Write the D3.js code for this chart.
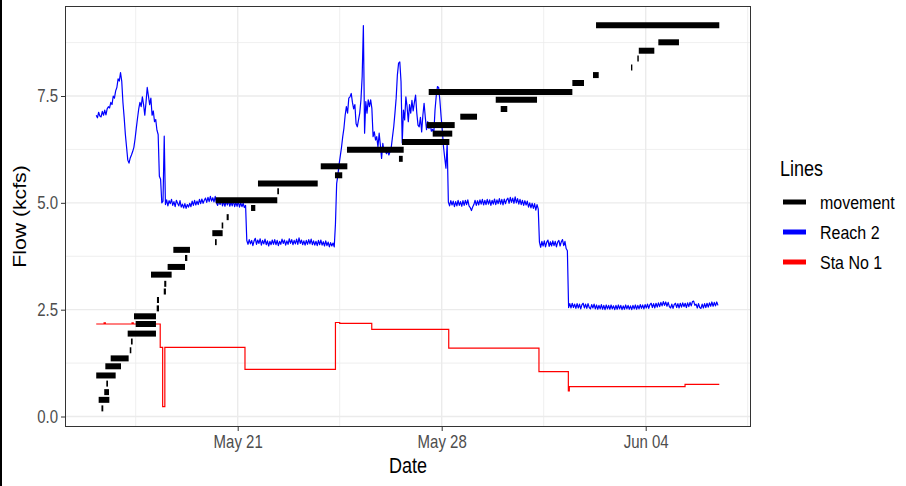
<!DOCTYPE html>
<html>
<head>
<meta charset="utf-8">
<script src="https://cdn.jsdelivr.net/npm/d3@7"></script>
<style>
  body { margin: 0; background: #ffffff; }
  svg { display: block; font-family: "Liberation Sans", Arial, sans-serif; }
</style>
</head>
<body>
<svg id="chart" width="906" height="486"></svg>
<script>
// ---- data ----
const xTickDates = ["2021-05-21 00:00", "2021-05-28 00:00", "2021-06-04 00:00"];
const xMinorDates = ["2021-05-17 12:00", "2021-05-24 12:00", "2021-05-31 12:00", "2021-06-07 12:00"];
const yTicks = [0, 2.5, 5, 7.5];
const yMinor = [1.25, 3.75, 6.25, 8.75];
const xDomain = ["2021-05-15 01:47", "2021-06-07 14:43"];
const yDomain = [-0.2457, 9.6065];

const seriesNames = ["movement", "Reach 2", "Sta No 1"];
const seriesColors = ["#000000", "#0000FF", "#FF0000"];

// Reach 2 flow, hourly readings
const reachStart = "2021-05-16 03:30";
const reachStepHours = 1;
const reachFlow = [
  7.05, 6.99, 7.12, 7.03, 7.01, 7.14, 7.05, 7.17, 7.06, 7.20,
  7.25, 7.22, 7.35, 7.30, 7.50, 7.45, 7.62, 7.70, 7.90, 7.85,
  8.05, 7.85, 7.35, 7.00, 6.60, 6.30, 6.00, 5.93, 6.05, 6.12,
  6.20, 6.30, 6.50, 6.75, 6.98, 7.20, 7.35, 7.25, 7.48, 7.30,
  7.05, 7.35, 7.70, 7.50, 7.30, 7.45, 7.05, 7.15, 6.90, 6.95,
  6.70, 6.60, 5.62, 5.55, 5.00, 5.04, 6.56,
  4.96, 5.07, 4.93, 5.05, 4.98, 5.08, 4.94, 5.03, 4.91, 5.06,
  4.99, 4.93, 5.05, 4.90, 4.97, 4.88, 4.98, 4.87, 4.96, 4.90,
  4.99, 4.91, 5.04, 4.94, 5.06, 4.95, 5.04, 4.96, 5.08, 4.98,
  5.09, 4.99, 5.06, 5.11, 5.01, 5.13, 5.03, 5.15, 5.04, 5.12,
  5.02, 5.15, 5.00, 4.94, 5.05, 4.96, 5.07, 4.93, 5.03, 4.92,
  5.05, 4.95, 5.06, 4.92, 5.02, 4.93, 5.05, 4.91, 5.01, 4.92,
  5.04, 4.90, 5.00, 4.91, 4.99, 4.89, 4.94,
  4.12, 4.03, 4.14, 4.04, 4.12, 4.00, 4.11, 4.17, 4.03, 4.13,
  4.05, 4.16, 4.01, 4.12, 4.04, 4.15, 4.02, 4.11, 3.99, 4.10,
  4.02, 4.13, 4.03, 4.14, 4.02, 4.12, 4.00, 4.10, 4.03, 4.15,
  4.05, 4.13, 4.01, 4.11, 4.03, 4.16, 4.05, 4.14, 4.02, 4.12,
  4.04, 4.15, 4.03, 4.18, 4.05, 4.13, 4.02, 4.11, 4.01, 4.12,
  4.03, 4.14, 4.04, 4.15, 4.02, 4.11, 4.01, 4.10, 4.00, 4.12,
  4.02, 4.13, 4.01, 4.09, 3.99, 4.11, 4.00, 4.08, 3.97, 4.07,
  3.99, 4.06, 3.97,
  4.50, 5.45, 5.65, 5.90, 6.10, 6.30, 6.55, 6.75, 7.05, 7.25,
  7.10, 7.45, 7.48, 7.56, 7.35, 7.20, 7.30, 6.85, 6.78, 6.94,
  7.10, 7.41, 7.95, 9.15, 6.63, 7.37, 7.10, 7.41, 7.25, 7.41,
  7.21, 6.55, 6.66, 6.47, 6.55, 6.31, 6.63, 6.35, 6.04, 6.39,
  6.20, 6.24, 6.15, 6.22, 6.12, 6.20, 6.31, 6.55, 6.78, 7.10,
  7.45, 7.99, 8.27, 8.30, 7.84, 6.40, 7.17, 6.94, 7.48, 7.25,
  6.90, 7.30, 7.10, 7.40, 7.15, 7.35, 7.52, 7.10, 6.82, 6.78,
  7.00, 6.66, 7.05, 7.33, 7.00, 6.71, 6.90, 6.74, 6.85, 6.68,
  6.72, 6.63, 7.17, 7.50, 7.72, 7.70, 7.40, 7.02, 6.70, 6.31,
  6.05, 5.81, 6.39,
  5.02, 4.93, 5.05, 4.95, 5.04, 4.91, 5.03, 4.93, 5.06, 4.94,
  5.03, 4.92, 5.05, 4.94, 5.06, 4.96, 5.07, 4.93, 4.89, 4.82,
  4.90, 4.96, 5.06, 4.94, 5.05, 4.95, 5.07, 4.97, 5.08, 4.95,
  5.06, 4.96, 5.08, 4.97, 5.07, 4.94, 5.06, 4.97, 5.09, 4.96,
  5.07, 4.98, 5.10, 4.97, 5.08, 4.95, 5.09, 4.98, 5.07, 5.11,
  4.99, 5.13, 5.01, 5.11, 4.99, 5.14, 5.00, 5.10, 4.97, 5.08,
  4.96, 5.06, 4.94, 5.05, 4.95, 5.04, 4.90, 5.00, 4.88, 4.99,
  4.87, 4.98, 4.83, 4.96, 4.86,
  4.08, 3.96, 4.10, 3.99, 4.11, 3.97, 4.08, 4.13, 3.98, 4.09,
  3.99, 4.11, 4.00, 4.10, 3.97, 4.08, 4.12, 3.99, 4.09, 4.14,
  4.00, 4.10, 3.93, 3.88,
  2.55, 2.64, 2.54, 2.65, 2.55, 2.63, 2.53, 2.64, 2.54, 2.63,
  2.52, 2.62, 2.65, 2.54, 2.63, 2.53, 2.64, 2.55, 2.52, 2.62,
  2.54, 2.63, 2.52, 2.61, 2.51, 2.60, 2.52, 2.62, 2.51, 2.60,
  2.50, 2.61, 2.52, 2.60, 2.51, 2.61, 2.52, 2.59, 2.50, 2.60,
  2.51, 2.61, 2.52, 2.60, 2.50, 2.59, 2.51, 2.61, 2.52, 2.60,
  2.51, 2.59, 2.50, 2.60, 2.52, 2.61, 2.51, 2.60, 2.52, 2.62,
  2.53, 2.61, 2.52, 2.62, 2.54, 2.63, 2.53, 2.62, 2.65, 2.55,
  2.64, 2.54, 2.65, 2.56, 2.66, 2.57, 2.67, 2.59, 2.69, 2.60,
  2.68, 2.58, 2.67, 2.57, 2.54, 2.63, 2.53, 2.62, 2.65, 2.55,
  2.64, 2.54, 2.65, 2.56, 2.66, 2.57, 2.65, 2.55, 2.66, 2.57,
  2.67, 2.59, 2.69, 2.70, 2.60, 2.63, 2.54, 2.64, 2.55, 2.53,
  2.63, 2.54, 2.64, 2.55, 2.65, 2.56, 2.66, 2.58, 2.68, 2.58,
  2.67, 2.59, 2.68, 2.60
];

// Sta No 1 flow, value holds until the next change
const staTimes = [
  "2021-05-16 03:30", "2021-05-16 10:00", "2021-05-16 11:00", "2021-05-17 09:00",
  "2021-05-17 10:00", "2021-05-18 08:12", "2021-05-18 10:12", "2021-05-18 12:00",
  "2021-05-21 06:00", "2021-05-24 08:30", "2021-05-24 12:00", "2021-05-25 14:24",
  "2021-05-28 05:48", "2021-05-31 08:06", "2021-06-01 08:18", "2021-06-01 09:06",
  "2021-06-05 08:24", "2021-06-06 12:36"
];
const staFlow = [
  2.165, 2.19, 2.165, 2.19,
  2.165, 1.62, 0.23, 1.62,
  1.105, 2.20, 2.18, 2.04,
  1.60, 1.05, 0.60, 0.70,
  0.753, 0.753
];

// movement: flow held between start and end
const moveStart = [
  "2021-05-16 07:48", "2021-05-16 05:30", "2021-05-16 10:06", "2021-05-16 11:48",
  "2021-05-16 03:30", "2021-05-16 11:00", "2021-05-16 15:24", "2021-05-17 07:06",
  "2021-05-17 08:06", "2021-05-17 05:24", "2021-05-17 12:00", "2021-05-17 10:36",
  "2021-05-18 05:18", "2021-05-18 05:30", "2021-05-18 11:06", "2021-05-18 11:30",
  "2021-05-18 00:36", "2021-05-18 14:18", "2021-05-19 04:36", "2021-05-18 19:00",
  "2021-05-20 03:06", "2021-05-20 05:18", "2021-05-20 10:48", "2021-05-20 14:54",
  "2021-05-20 05:54", "2021-05-21 11:00", "2021-05-22 08:36", "2021-05-21 16:42",
  "2021-05-23 20:24", "2021-05-24 08:06", "2021-05-24 18:00", "2021-05-26 12:48",
  "2021-05-26 15:18", "2021-05-27 16:36", "2021-05-27 11:42", "2021-05-27 13:18",
  "2021-05-28 15:18", "2021-05-29 20:30", "2021-05-30 00:36", "2021-06-01 11:36",
  "2021-06-02 04:36", "2021-06-03 11:54", "2021-06-03 17:06", "2021-06-03 18:18",
  "2021-06-04 10:24", "2021-06-02 07:06"
];
const moveEnd = [
  "2021-05-16 09:18", "2021-05-16 14:18", "2021-05-16 14:00", "2021-05-16 13:12",
  "2021-05-16 19:30", "2021-05-16 23:54", "2021-05-17 06:12", "2021-05-17 08:24",
  "2021-05-17 09:30", "2021-05-18 04:42", "2021-05-18 04:42", "2021-05-18 04:42",
  "2021-05-18 07:12", "2021-05-18 07:12", "2021-05-18 12:54", "2021-05-18 13:12",
  "2021-05-18 17:36", "2021-05-19 04:36", "2021-05-19 06:30", "2021-05-19 08:42",
  "2021-05-20 11:36", "2021-05-20 06:42", "2021-05-20 12:06", "2021-05-20 16:36",
  "2021-05-22 08:36", "2021-05-21 14:30", "2021-05-22 10:00", "2021-05-23 17:54",
  "2021-05-24 18:18", "2021-05-24 14:06", "2021-05-26 16:42", "2021-05-26 15:54",
  "2021-05-28 06:18", "2021-05-28 08:42", "2021-05-28 10:42", "2021-06-01 11:36",
  "2021-05-29 05:06", "2021-05-31 06:30", "2021-05-30 06:00", "2021-06-01 21:12",
  "2021-06-02 09:18", "2021-06-03 13:00", "2021-06-03 18:18", "2021-06-04 07:06",
  "2021-06-05 03:24", "2021-06-06 12:36"
];
const moveFlow = [
  0.19, 0.39, 0.57, 0.77,
  0.96, 1.175, 1.36, 1.55,
  1.755, 1.94, 2.165, 2.345,
  2.53, 2.726, 2.925, 3.105,
  3.32, 3.50, 3.71, 3.90,
  4.29, 4.08, 4.47, 4.665,
  5.06, 4.88, 5.27, 5.455,
  5.855, 5.645, 6.245, 6.03,
  6.425, 6.62, 6.82, 7.594,
  7.016, 7.41, 7.196, 7.805,
  7.99, 8.17, 8.38, 8.56,
  8.757, 9.155
];

// ---- layout ----
const parse = d3.utcParse("%Y-%m-%d %H:%M");
const panel = { left: 65, right: 751, top: 6, bottom: 427 };
const textStretch = 1.18; // glyphs are drawn slightly taller than wide
const svg = d3.select("#chart");

const x = d3.scaleUtc().domain(xDomain.map(parse)).range([panel.left, panel.right]);
const y = d3.scaleLinear().domain(yDomain).range([panel.bottom, panel.top]);

// stretch a text element vertically about its own middle
function stretchText(sel) {
  sel.each(function () {
    const bb = this.getBBox();
    const cy = bb.y + bb.height / 2;
    d3.select(this).attr("transform",
      `translate(0,${cy}) scale(1,${textStretch}) translate(0,${-cy})`);
  });
}

svg.append("rect").attr("width", 906).attr("height", 486).attr("fill", "#ffffff");
svg.append("rect").attr("x", 0).attr("y", 0).attr("width", 2).attr("height", 486).attr("fill", "#000000");

svg.append("defs").append("clipPath").attr("id", "panel-clip")
  .append("rect")
  .attr("x", panel.left).attr("y", panel.top)
  .attr("width", panel.right - panel.left).attr("height", panel.bottom - panel.top);

// grid
const grid = svg.append("g");
grid.selectAll(".ymin").data(yMinor).join("line")
  .attr("x1", panel.left).attr("x2", panel.right)
  .attr("y1", d => y(d)).attr("y2", d => y(d))
  .attr("stroke", "#EBEBEB").attr("stroke-width", 0.8);
grid.selectAll(".xmin").data(xMinorDates.map(parse)).join("line")
  .attr("y1", panel.top).attr("y2", panel.bottom)
  .attr("x1", d => x(d)).attr("x2", d => x(d))
  .attr("stroke", "#EBEBEB").attr("stroke-width", 0.8);
grid.selectAll(".ymaj").data(yTicks).join("line")
  .attr("x1", panel.left).attr("x2", panel.right)
  .attr("y1", d => y(d)).attr("y2", d => y(d))
  .attr("stroke", "#EBEBEB").attr("stroke-width", 1.4);
grid.selectAll(".xmaj").data(xTickDates.map(parse)).join("line")
  .attr("y1", panel.top).attr("y2", panel.bottom)
  .attr("x1", d => x(d)).attr("x2", d => x(d))
  .attr("stroke", "#EBEBEB").attr("stroke-width", 1.4);

// series
const plot = svg.append("g").attr("clip-path", "url(#panel-clip)");

const t0 = parse(reachStart);
const reachData = reachFlow.map((v, i) => ({ t: d3.utcHour.offset(t0, i * reachStepHours), v }));
const staData = staTimes.map((s, i) => ({ t: parse(s), v: staFlow[i] }));

plot.append("path")
  .datum(reachData)
  .attr("fill", "none")
  .attr("stroke", seriesColors[1])
  .attr("stroke-width", 1.2)
  .attr("stroke-linejoin", "round")
  .attr("d", d3.line().x(d => x(d.t)).y(d => y(d.v)));

plot.append("path")
  .datum(staData)
  .attr("fill", "none")
  .attr("stroke", seriesColors[2])
  .attr("stroke-width", 1.2)
  .attr("d", d3.line().curve(d3.curveStepAfter).x(d => x(d.t)).y(d => y(d.v)));

const moveData = moveFlow.map((v, i) => ({ a: parse(moveStart[i]), b: parse(moveEnd[i]), v }));
plot.selectAll(".move").data(moveData).join("line")
  .attr("x1", d => x(d.a)).attr("x2", d => x(d.b))
  .attr("y1", d => y(d.v)).attr("y2", d => y(d.v))
  .attr("stroke", seriesColors[0])
  .attr("stroke-width", 6)
  .attr("stroke-linecap", "butt");

// panel border
svg.append("rect")
  .attr("x", panel.left + 0.5).attr("y", panel.top + 0.5)
  .attr("width", panel.right - panel.left - 1).attr("height", panel.bottom - panel.top - 1)
  .attr("fill", "none").attr("stroke", "#333333").attr("stroke-width", 1);

// axes
const fmt = d3.utcFormat("%b %d");
const xAxis = d3.axisBottom(x).tickValues(xTickDates.map(parse)).tickFormat(fmt).tickSize(4).tickPadding(5);
const yAxis = d3.axisLeft(y).tickValues(yTicks).tickFormat(d3.format(".1f")).tickSize(4).tickPadding(3);

const gx = svg.append("g").attr("transform", `translate(0,${panel.bottom})`).call(xAxis);
const gy = svg.append("g").attr("transform", `translate(${panel.left},0)`).call(yAxis);
[gx, gy].forEach(g => {
  g.select(".domain").remove();
  g.selectAll(".tick line").attr("stroke", "#333333");
  g.selectAll(".tick text")
    .attr("fill", "#4D4D4D")
    .style("font-family", '"Liberation Sans", Arial, sans-serif')
    .style("font-size", "15px")
    .call(stretchText);
});

svg.append("text")
  .attr("x", (panel.left + panel.right) / 2).attr("y", 472)
  .attr("text-anchor", "middle")
  .style("font-size", "18px").attr("fill", "#000000")
  .text("Date")
  .call(stretchText);

svg.append("text")
  .attr("transform", `translate(26,${(panel.top + panel.bottom) / 2}) scale(1,${textStretch}) rotate(-90)`)
  .attr("text-anchor", "middle")
  .style("font-size", "18px").attr("fill", "#000000")
  .text("Flow (kcfs)");

// legend
const legend = svg.append("g").attr("transform", "translate(780,0)");
legend.append("text")
  .attr("x", 0).attr("y", 175)
  .style("font-size", "18px").attr("fill", "#000000")
  .text("Lines")
  .call(stretchText);
const rows = legend.selectAll(".row").data(seriesNames).join("g")
  .attr("transform", (d, i) => `translate(0,${202 + i * 30})`);
rows.append("line")
  .attr("x1", 3).attr("x2", 26).attr("y1", 0).attr("y2", 0)
  .attr("stroke", (d, i) => seriesColors[i])
  .attr("stroke-width", 5);
rows.append("text")
  .attr("x", 40).attr("y", 0)
  .attr("dy", "0.35em")
  .style("font-size", "16px").attr("fill", "#000000")
  .text(d => d)
  .call(stretchText);
</script>
</body>
</html>
